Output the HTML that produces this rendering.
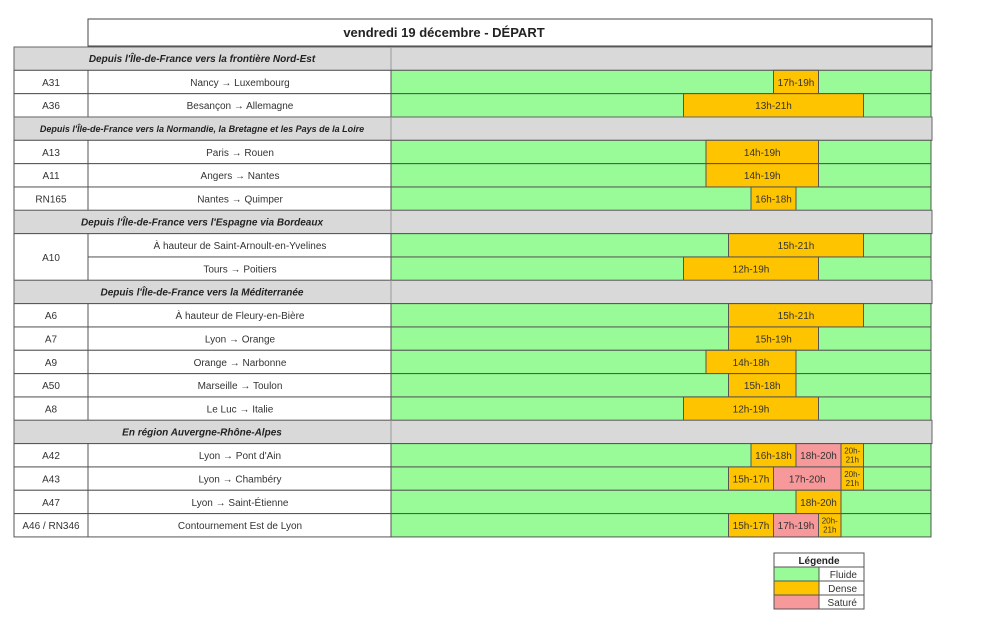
<!DOCTYPE html>
<html><head><meta charset="utf-8"><style>
body{margin:0;background:#fff;}
svg{display:block;font-family:"Liberation Sans",sans-serif;}
</style></head><body>
<svg id="c" width="1000" height="618" viewBox="0 0 1000 618"></svg>
<script>
const rowsRoad=["","A31","A36","","A13","A11","RN165","","A10","","","A6","A7","A9","A50","A8","","A42","A43","A47","A46 / RN346"];
const rowsLabel=["Depuis l'Île-de-France vers la frontière Nord-Est","Nancy → Luxembourg","Besançon → Allemagne","Depuis l'Île-de-France vers la Normandie, la Bretagne et les Pays de la Loire","Paris → Rouen","Angers → Nantes","Nantes → Quimper","Depuis l'Île-de-France vers l'Espagne via Bordeaux","À hauteur de Saint-Arnoult-en-Yvelines","Tours → Poitiers","Depuis l'Île-de-France vers la Méditerranée","À hauteur de Fleury-en-Bière","Lyon → Orange","Orange → Narbonne","Marseille → Toulon","Le Luc → Italie","En région Auvergne-Rhône-Alpes","Lyon → Pont d'Ain","Lyon → Chambéry","Lyon → Saint-Étienne","Contournement Est de Lyon"];
const isSection=[1,0,0,1,0,0,0,1,0,0,1,0,0,0,0,0,1,0,0,0,0];
// segments per row: [startHour, endHour, level(1 dense,2 saturé), label]
const segStart=[[],[17],[13],[],[14],[14],[16],[],[15],[13],[],[15],[15],[14],[15],[13],[],[16,18,20],[15,17,20],[18],[15,17,19]];
const segEnd=[[],[19],[21],[],[19],[19],[18],[],[21],[19],[],[21],[19],[18],[18],[19],[],[18,20,21],[17,20,21],[20],[17,19,20]];
const segLevel=[[],[1],[1],[],[1],[1],[1],[],[1],[1],[],[1],[1],[1],[1],[1],[],[1,2,1],[1,2,1],[1],[1,2,1]];
const segText=[[],["17h-19h"],["13h-21h"],[],["14h-19h"],["14h-19h"],["16h-18h"],[],["15h-21h"],["12h-19h"],[],["15h-21h"],["15h-19h"],["14h-18h"],["15h-18h"],["12h-19h"],[],["16h-18h","18h-20h","20h-21h"],["15h-17h","17h-20h","20h-21h"],["18h-20h"],["15h-17h","17h-19h","20h-21h"]];
const legendItems=["Fluide","Dense","Saturé"];

const NS="http://www.w3.org/2000/svg";
const svg=document.getElementById('c');
const colors=["#98fb98","#ffc400","#f7999b"];
const x=h=>391+h*22.5;
const top0=47, rh=23.33;
const y=i=>top0+i*rh;
function el(t,a,p){const e=document.createElementNS(NS,t);for(const k in a)e.setAttribute(k,a[k]);(p||svg).appendChild(e);return e;}
function txt(s,a){const e=el('text',a);e.textContent=s;return e;}

let e=el('rect',{x:88,y:19,width:844,height:27,fill:"#fff",stroke:"#444","stroke-width":1});

e=txt("vendredi 19 décembre  - DÉPART",{x:444,y:37,"font-size":13,"font-weight":"bold","text-anchor":"middle",fill:"#222"});


for(let i=0;i<rowsLabel.length;i++){
  const y0=y(i),y1=y(i+1);
  if(isSection[i]){
    e=el('rect',{x:14,y:y0,width:918,height:y1-y0,fill:"#d9d9d9",stroke:"#666","stroke-width":1});
    
    el('line',{x1:391,y1:y0,x2:391,y2:y1,stroke:"#999"});
    e=txt(rowsLabel[i],{x:202,y:y0+15,"font-size":i==3?9:10,"font-weight":"bold","font-style":"italic","text-anchor":"middle",fill:"#222"});
    
    continue;
  }
  el('rect',{x:14,y:y0,width:377,height:y1-y0,fill:"#fff",stroke:"#555","stroke-width":1});
  el('line',{x1:88,y1:y0,x2:88,y2:y1,stroke:"#555"});
  e=el('rect',{x:x(0),y:y0,width:x(24)-x(0),height:y1-y0,fill:colors[0],stroke:"#555","stroke-width":1});
  
  for(let j=0;j<segStart[i].length;j++){
    const s=segStart[i][j],en=segEnd[i][j];
    e=el('rect',{x:x(s),y:y0,width:x(en)-x(s),height:y1-y0,fill:colors[segLevel[i][j]],stroke:"#555","stroke-width":1});
    
    const cx=(x(s)+x(en))/2, t=segText[i][j];
    if(en-s<=1){
      const p=t.split('-');
      e=txt(p[0]+"-",{x:cx,y:y0+10,"font-size":8,"text-anchor":"middle",fill:"#333"});
      
      e=txt(p[1],{x:cx,y:y0+19,"font-size":8,"text-anchor":"middle",fill:"#333"});
      
    } else {
      e=txt(t,{x:cx,y:y0+15.5,"font-size":10,"text-anchor":"middle",fill:"#333"});
      
    }
  }
  if(rowsRoad[i]){
    const span=(i==8)?2:1;
    e=txt(rowsRoad[i],{x:51,y:y0+15.5+(span-1)*rh/2,"font-size":10,"text-anchor":"middle",fill:"#333"});
    
  }
  e=txt(rowsLabel[i],{x:240,y:y0+15.5,"font-size":10,"text-anchor":"middle",fill:"#333"});
  
}
// merge A10 road cell
el('rect',{x:14.5,y:y(8)+1,width:73,height:2*rh-2,fill:"#fff"});
e=txt("A10",{x:51,y:y(8)+rh+4,"font-size":10,"text-anchor":"middle",fill:"#333"});


// legend
const lg=el('g',{});

el('rect',{x:774,y:553,width:90,height:14,fill:"#fff",stroke:"#555"},lg);
txt("Légende",{x:819,y:564,"font-size":10,"font-weight":"bold","text-anchor":"middle",fill:"#222"});
legendItems.forEach((n,k)=>{
  const yy=567+k*14;
  const g=el('g',{},lg);
  
  
  el('rect',{x:774,y:yy,width:45,height:14,fill:colors[k],stroke:"#555"},g);
  el('rect',{x:819,y:yy,width:45,height:14,fill:"#fff",stroke:"#555"},g);
  txt(n,{x:857,y:yy+11,"font-size":10,"text-anchor":"end",fill:"#333"},g);
});
</script>
</body></html>
